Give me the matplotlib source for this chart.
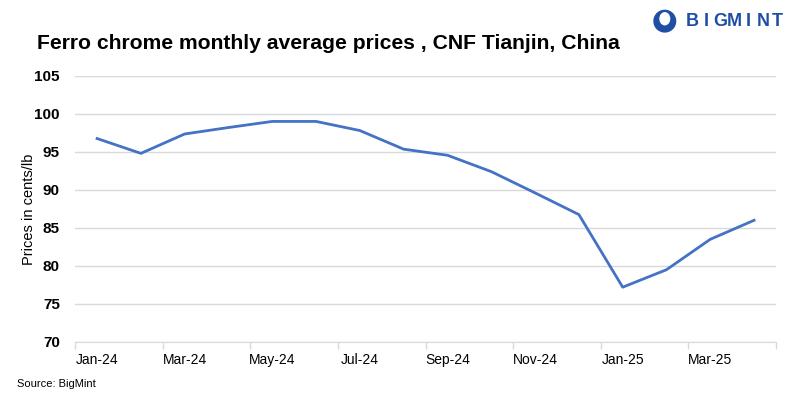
import matplotlib.pyplot as plt
from matplotlib.patches import Ellipse

months = ["Jan-24", "Feb-24", "Mar-24", "Apr-24", "May-24", "Jun-24", "Jul-24", "Aug-24",
          "Sep-24", "Oct-24", "Nov-24", "Dec-24", "Jan-25", "Feb-25", "Mar-25", "Apr-25"]
prices = [96.75, 94.8, 97.35, 98.2, 99.0, 99.0, 97.8, 95.35,
          94.55, 92.4, 89.6, 86.75, 77.2, 79.5, 83.5, 86.0]
yticks = [70, 75, 80, 85, 90, 95, 100, 105]

plt.rcParams['font.family'] = ['Liberation Sans', 'DejaVu Sans']

fig = plt.figure(figsize=(8, 3.99), dpi=100)
ax = fig.add_axes([0.094, 0.143, 0.876, 0.667])

x = list(range(len(months)))
ax.plot(x, prices, color="#4472C4", lw=2, solid_joinstyle="round")

ax.set_xlim(-0.5, len(months) - 0.5)
ax.set_ylim(70, 105)
ax.set_yticks(yticks)
ax.set_yticklabels([str(v) for v in yticks], fontweight="bold", fontsize=11)
ax.grid(axis="y", color="#d9d9d9", lw=1)
ax.set_axisbelow(True)

# labels on every second month, tick marks on the boundaries
ax.set_xticks(x[::2])
ax.set_xticklabels(months[::2], fontsize=10,
                   family=['Liberation Sans Narrow', 'Liberation Sans'])
ax.set_xticks([i - 0.5 for i in range(0, len(months) + 1, 2)], minor=True)
ax.tick_params(axis="x", which="major", length=0, pad=8)
ax.tick_params(axis="x", which="minor", length=5, color="#d9d9d9", width=1)
ax.tick_params(axis="y", length=0, pad=11)

for s in ["top", "right", "left"]:
    ax.spines[s].set_visible(False)
ax.spines["bottom"].set_color("#d9d9d9")

ax.set_ylabel("Prices in cents/lb", fontsize=10.5)
ax.yaxis.set_label_coords(-0.056, 0.5)

fig.text(0.046, 0.89, "Ferro chrome monthly average prices , CNF Tianjin, China",
         fontsize=15.2, fontweight="bold", va="center")
fig.text(0.021, 0.037, "Source: BigMint", fontsize=8, va="center")

# logo
blue = "#1f4ea3"
for i, ch in enumerate("BIGMINT"):
    fig.text(0.865 + i * 0.0177, 0.947, ch, fontsize=13, fontweight="bold",
             color=blue, va="center", ha="center")
fig.patches.append(Ellipse((0.831, 0.947), 0.027, 0.054, transform=fig.transFigure,
                           color=blue))
fig.patches.append(Ellipse((0.831, 0.953), 0.012, 0.03, transform=fig.transFigure,
                           color="white"))

fig.savefig("out.png", dpi=100)
